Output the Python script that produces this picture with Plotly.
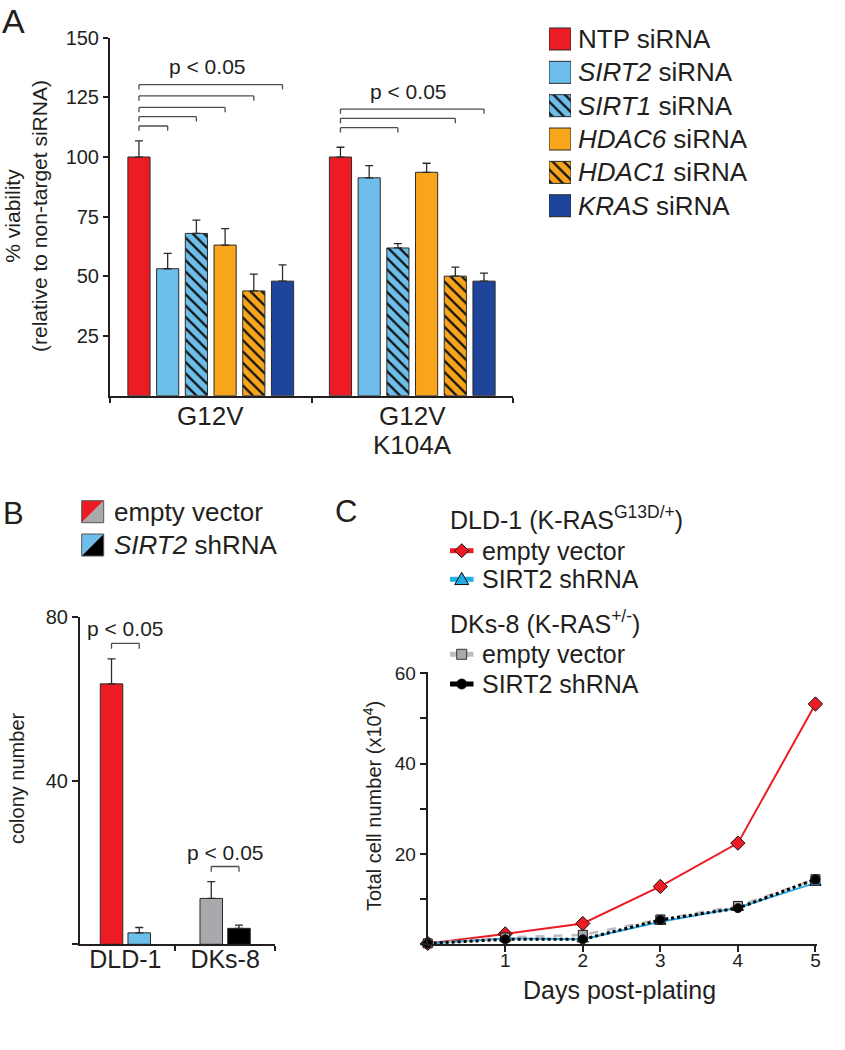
import plotly.graph_objects as go

W, H = 845, 1050
FONT = "Arial, Liberation Sans, Helvetica, sans-serif"
INK = "#231F20"
EDGE = "#2b2b2b"


def px_x(p):
    return p / W


def px_y(p):
    return 1 - p / H


# ======================= DATA =======================
# ---- Panel A ----
groups_A = ["G12V", "G12V<br>K104A"]
labels_A = ["NTP siRNA", "<i>SIRT2</i> siRNA", "<i>SIRT1</i> siRNA",
            "<i>HDAC6</i> siRNA", "<i>HDAC1</i> siRNA", "<i>KRAS</i> siRNA"]
ntp_A = [100.0, 100.0]
sirt2_A = [53.2, 91.3]
sirt1_A = [68.0, 61.9]
hdac6_A = [63.1, 93.6]
hdac1_A = [43.9, 50.1]
kras_A = [48.0, 48.0]
ntp_A_err = [6.8, 4.1]
sirt2_A_err = [6.4, 5.1]
sirt1_A_err = [5.6, 1.8]
hdac6_A_err = [6.9, 3.8]
hdac1_A_err = [7.0, 3.8]
kras_A_err = [6.8, 3.4]
yticks_A = [25, 50, 75, 100, 125, 150]

# significance brackets (group index, target bar index, height)
brk_A_group = [0, 0, 0, 0, 0, 1, 1, 1]
brk_A_bar = [1, 2, 3, 4, 5, 2, 4, 5]
brk_A_y = [113.0, 116.9, 120.8, 125.6, 130.3, 112.3, 116.2, 120.1]
ptext_A_y = [137.8, 127.4]

# ---- Panel B ----
cells_B = ["DLD-1", "DKs-8"]
labels_B = ["empty vector", "<i>SIRT2</i> shRNA"]
empty_B = [63.6, 11.2]
shrna_B = [2.8, 3.9]
empty_B_err = [6.1, 4.1]
shrna_B_err = [1.3, 0.8]
yticks_B = [0, 40, 80]
yticktext_B = ["", "40", "80"]
brk_B_y = [73.5, 19.0]
ptext_B_y = [77.2, 22.4]

# ---- Panel C ----
days_C = [0, 1, 2, 3, 4, 5]
dld_empty = [0.2, 2.3, 4.6, 12.8, 22.4, 53.2]
dld_shrna = [0.2, 1.3, 1.1, 5.0, 8.1, 13.6]
dks_empty = [0.2, 1.5, 2.1, 5.5, 8.5, 14.4]
dks_shrna = [0.2, 1.1, 1.1, 5.4, 8.0, 14.4]
xticks_C = [1, 2, 3, 4, 5]
yticks_C = [0, 10, 20, 30, 40, 50, 60]
yticktext_C = ["", "", "20", "", "40", "", "60"]
legend_titles_C = ["DLD-1 (K-RAS<sup>G13D/+</sup>)", "DKs-8 (K-RAS<sup>+/-</sup>)"]
legend_names_C = ["empty vector", "SIRT2 shRNA", "empty vector", "SIRT2 shRNA"]

# ======================= STYLE =======================
RED = "#ED1C24"
LBLUE = "#6DBEEA"
ORANGE = "#F8A51C"
NAVY = "#1F449C"
GRAY = "#A7A9AC"
BLACK = "#000000"
CBLUE = "#27AAE1"
LGRAY = "#BDBEC0"

A_colors = [RED, LBLUE, LBLUE, ORANGE, ORANGE, NAVY]
A_hatch = ["", "", "\\", "", "\\", ""]
A_PITCH = 0.1425
A_W = 0.11
B_PITCH = 0.278
B_W = 0.226


def bar_marker(color, hatch):
    return dict(color=color, line=dict(color=EDGE, width=1),
                pattern=dict(shape=hatch, fgcolor="#111111", bgcolor=color,
                             size=8, solidity=0.28, fillmode="replace"))


fig = go.Figure()
shapes = []
annotations = []

# ---------------- Panel A bars ----------------
A_series = [ntp_A, sirt2_A, sirt1_A, hdac6_A, hdac1_A, kras_A]
A_errs = [ntp_A_err, sirt2_A_err, sirt1_A_err, hdac6_A_err, hdac1_A_err, kras_A_err]
nA = len(A_series)
for i, (vals, err) in enumerate(zip(A_series, A_errs)):
    off = (i - nA / 2) * A_PITCH + (A_PITCH - A_W) / 2
    fig.add_trace(go.Bar(
        x=groups_A, y=vals, width=A_W, offset=off, name=labels_A[i],
        marker=bar_marker(A_colors[i], A_hatch[i]),
        error_y=dict(type="data", array=err, arrayminus=[0] * len(err),
                     symmetric=False, color=EDGE, thickness=1.3, width=4),
        xaxis="x", yaxis="y", showlegend=False, hoverinfo="skip"))


def bar_center_A(g, i):
    return g + (i - nA / 2) * A_PITCH + A_PITCH / 2


TICK_A = 2.0
BRK_COL = "#4d4d4d"
for g, b, yv in zip(brk_A_group, brk_A_bar, brk_A_y):
    x0 = bar_center_A(g, 0)
    x1 = bar_center_A(g, b)
    for (xa, ya, xb, yb) in [(x0, yv - TICK_A, x0, yv), (x0, yv, x1, yv), (x1, yv, x1, yv - TICK_A)]:
        shapes.append(dict(type="line", xref="x", yref="y", x0=xa, y0=ya, x1=xb, y1=yb,
                           line=dict(color=BRK_COL, width=1.3)))
for g, yv in enumerate(ptext_A_y):
    annotations.append(dict(text="p < 0.05", xref="x", yref="y", x=g - 0.02, y=yv,
                            showarrow=False, font=dict(size=21, color=INK),
                            xanchor="center", yanchor="middle"))

# category labels of panel A (one annotation per text line, tight line spacing)
for g, name in enumerate(groups_A):
    for j, line in enumerate(name.split("<br>")):
        annotations.append(dict(text=line, xref="x", yref="paper", x=g,
                                y=px_y(416 + 29 * j), showarrow=False,
                                font=dict(size=26, color=INK),
                                xanchor="center", yanchor="middle"))

# ---------------- Panel A legend swatches (one trace per item) ----------------
for i in range(nA):
    fig.add_trace(go.Bar(
        y=[labels_A[i]], x=[1], orientation="h", width=0.66,
        marker=bar_marker(A_colors[i], A_hatch[i]),
        xaxis="x2", yaxis="y2", showlegend=False, hoverinfo="skip"))

# ---------------- Panel B bars ----------------
B_series = [empty_B, shrna_B]
B_errs = [empty_B_err, shrna_B_err]
B_colors = [[RED, GRAY], [LBLUE, BLACK]]
nB = len(B_series)
for i, (vals, err) in enumerate(zip(B_series, B_errs)):
    off = (i - nB / 2) * B_PITCH + (B_PITCH - B_W) / 2
    fig.add_trace(go.Bar(
        x=cells_B, y=vals, width=B_W, offset=off, name=labels_B[i],
        marker=dict(color=B_colors[i], line=dict(color=EDGE, width=1)),
        error_y=dict(type="data", array=err, arrayminus=[0] * len(err),
                     symmetric=False, color=EDGE, thickness=1.3, width=4),
        xaxis="x3", yaxis="y3", showlegend=False, hoverinfo="skip"))

TICK_B = 1.3
for g, yv in enumerate(brk_B_y):
    x0 = g - B_PITCH / 2
    x1 = g + B_PITCH / 2
    for (xa, ya, xb, yb) in [(x0, yv - TICK_B, x0, yv), (x0, yv, x1, yv), (x1, yv, x1, yv - TICK_B)]:
        shapes.append(dict(type="line", xref="x3", yref="y3", x0=xa, y0=ya, x1=xb, y1=yb,
                           line=dict(color=BRK_COL, width=1.3)))
for g, yv in enumerate(ptext_B_y):
    annotations.append(dict(text="p < 0.05", xref="x3", yref="y3", x=g, y=yv,
                            showarrow=False, font=dict(size=21, color=INK),
                            xanchor="center", yanchor="middle"))

# Panel B legend (two-tone swatches)
legB_x0, legB_size = 81.7, 22.0
legB_rows = [511.7, 545.0]
for r, yc in enumerate(legB_rows):
    xa, xb = px_x(legB_x0), px_x(legB_x0 + legB_size)
    yt, yb = px_y(yc - legB_size / 2), px_y(yc + legB_size / 2)
    c_up, c_low = B_colors[r][0], B_colors[r][1]
    shapes.append(dict(type="path", xref="paper", yref="paper",
                       path=f"M {xa},{yt} L {xb},{yt} L {xa},{yb} Z",
                       fillcolor=c_up, line=dict(width=0)))
    shapes.append(dict(type="path", xref="paper", yref="paper",
                       path=f"M {xb},{yt} L {xb},{yb} L {xa},{yb} Z",
                       fillcolor=c_low, line=dict(width=0)))
    shapes.append(dict(type="rect", xref="paper", yref="paper", x0=xa, x1=xb, y0=yb, y1=yt,
                       line=dict(color="#555555", width=1)))
    annotations.append(dict(text=labels_B[r], xref="paper", yref="paper",
                            x=px_x(111.7), y=px_y(yc), xanchor="left", yanchor="middle",
                            showarrow=False, font=dict(size=26, color=INK)))

# ---------------- Panel C lines ----------------
C_specs = [
    (dld_empty, legend_names_C[0], RED, "solid", 2, "diamond", 11, RED),
    (dld_shrna, legend_names_C[1], CBLUE, "solid", 2, "triangle-up", 10, CBLUE),
    (dks_empty, legend_names_C[2], LGRAY, "dash", 2.5, "square", 9, GRAY),
    (dks_shrna, legend_names_C[3], BLACK, "dot", 3, "circle", 9, BLACK),
]
for vals, name, lc, dash, lw, sym, ms, mc in C_specs:
    fig.add_trace(go.Scatter(
        x=days_C, y=vals, mode="lines+markers", name=name,
        line=dict(color=lc, width=lw, dash=dash),
        marker=dict(symbol=sym, size=ms, color=mc, line=dict(color="#111111", width=1)),
        cliponaxis=False, xaxis="x4", yaxis="y4", showlegend=False, hoverinfo="skip"))

# Panel C legend, drawn manually
legC_title_y = [520.5, 625.0]
legC_row_y = [550.7, 579.3, 654.3, 684.0]
legC_line_cols = [RED, "#1EB1EC", LGRAY, BLACK]
legC_x0, legC_x1, legC_mx, legC_tx = 450.0, 473.5, 461.7, 480.3
for t, ty in zip(legend_titles_C, legC_title_y):
    annotations.append(dict(text=t, x=px_x(448), y=px_y(ty - 3), xanchor="left",
                            font=dict(size=25, color=INK)))
MK_EDGE = dict(color="#111111", width=1)
for k, (ry, name, llc) in enumerate(zip(legC_row_y, legend_names_C, legC_line_cols)):
    shapes.append(dict(type="line", xref="paper", yref="paper",
                       x0=px_x(legC_x0), x1=px_x(legC_x1), y0=px_y(ry), y1=px_y(ry),
                       line=dict(color=llc, width=5)))
    mc = C_specs[k][7]
    sym = C_specs[k][5]
    cx, cy = legC_mx, ry
    if sym == "diamond":
        r = 7
        path = (f"M {px_x(cx)},{px_y(cy - r)} L {px_x(cx + r)},{px_y(cy)} "
                f"L {px_x(cx)},{px_y(cy + r)} L {px_x(cx - r)},{px_y(cy)} Z")
        shapes.append(dict(type="path", xref="paper", yref="paper", path=path,
                           fillcolor=mc, line=MK_EDGE))
    elif sym == "triangle-up":
        r = 7
        path = (f"M {px_x(cx)},{px_y(cy - r)} L {px_x(cx + r)},{px_y(cy + r * 0.75)} "
                f"L {px_x(cx - r)},{px_y(cy + r * 0.75)} Z")
        shapes.append(dict(type="path", xref="paper", yref="paper", path=path,
                           fillcolor=mc, line=MK_EDGE))
    elif sym == "square":
        r = 5
        shapes.append(dict(type="rect", xref="paper", yref="paper",
                           x0=px_x(cx - r), x1=px_x(cx + r), y0=px_y(cy + r), y1=px_y(cy - r),
                           fillcolor=mc, line=dict(color="#333333", width=1)))
    else:
        r = 5
        shapes.append(dict(type="circle", xref="paper", yref="paper",
                           x0=px_x(cx - r), x1=px_x(cx + r), y0=px_y(cy + r), y1=px_y(cy - r),
                           fillcolor=mc, line=MK_EDGE))
    annotations.append(dict(text=name, x=px_x(legC_tx), y=px_y(ry), xanchor="left",
                            font=dict(size=25, color=INK)))

# ---------------- Text annotations ----------------
annotations += [
    dict(text="A", x=px_x(13), y=1.0, yanchor="top", font=dict(size=34, color=INK)),
    dict(text="B", x=px_x(13), y=px_y(513), font=dict(size=31, color=INK)),
    dict(text="C", x=px_x(346), y=px_y(511), font=dict(size=31, color=INK)),
    dict(text="% viability<br>(relative to non-target siRNA)", x=px_x(26), y=px_y(216),
         textangle=-90, font=dict(size=21, color=INK)),
    dict(text="colony number", x=px_x(17), y=px_y(778), textangle=-90,
         font=dict(size=20, color=INK)),
    dict(text="Total cell number (x10<sup>4</sup>)", x=px_x(372), y=px_y(806), textangle=-90,
         font=dict(size=20, color=INK)),
    dict(text="Days post-plating", x=px_x(619), y=px_y(990), font=dict(size=25, color=INK)),
]
for a in annotations:
    a.setdefault("xref", "paper")
    a.setdefault("yref", "paper")
    a.setdefault("showarrow", False)
    a.setdefault("xanchor", "center")
    a.setdefault("yanchor", "middle")

axis_common = dict(showgrid=False, zeroline=False, showline=True, linecolor=INK,
                   linewidth=2, ticks="outside", tickcolor=INK, tickwidth=2,
                   automargin=False)

fig.update_layout(
    width=W, height=H, autosize=False,
    margin=dict(l=0, r=0, t=0, b=0, pad=0, autoexpand=False),
    paper_bgcolor="white", plot_bgcolor="white",
    font=dict(family=FONT, color=INK),
    barmode="overlay", showlegend=False,
    shapes=shapes, annotations=annotations,
    # Panel A
    xaxis=dict(axis_common, domain=[px_x(110), px_x(513)], anchor="y", type="category",
               range=[-0.5, 1.5], tickson="boundaries", ticklen=5, showticklabels=False),
    yaxis=dict(axis_common, domain=[px_y(395.7), px_y(37.7)], anchor="x", range=[0, 150],
               tickvals=yticks_A, ticklen=5, tickfont=dict(size=20, color=INK)),
    # Panel A legend swatches
    xaxis2=dict(domain=[px_x(549), px_x(571)], anchor="y2", range=[0, 1], visible=False,
                automargin=False),
    yaxis2=dict(domain=[px_y(222.4), px_y(22.3)], anchor="x2", type="category",
                categoryorder="array", categoryarray=labels_A,
                range=[nA - 0.5, -0.5], side="right", ticks="", showline=False,
                showgrid=False, zeroline=False, ticklabelstandoff=6, automargin=False,
                tickfont=dict(size=26, color=INK)),
    # Panel B
    xaxis3=dict(axis_common, domain=[px_x(80), px_x(275)], anchor="y3", type="category",
                range=[-0.455, 1.5], tickson="boundaries", ticklen=5, ticklabelstandoff=-8,
                tickfont=dict(size=25, color=INK)),
    yaxis3=dict(axis_common, domain=[px_y(944.3), px_y(616.7)], anchor="x3", range=[0, 80],
                tickvals=yticks_B, ticktext=yticktext_B, ticklen=6,
                tickfont=dict(size=20, color=INK)),
    # Panel C
    xaxis4=dict(axis_common, domain=[px_x(427.7), px_x(817)], anchor="y4", range=[0, 5.02],
                tickvals=xticks_C, ticklen=6, ticklabelstandoff=-8,
                tickfont=dict(size=19, color=INK)),
    yaxis4=dict(axis_common, domain=[px_y(944.3), px_y(671.7)], anchor="x4", range=[0, 60.35],
                tickvals=yticks_C, ticktext=yticktext_C, ticklen=6,
                tickfont=dict(size=19, color=INK)),
)

fig.write_html("out.html", config={"displayModeBar": False},
               post_script="document.body.style.margin='0';document.body.style.overflow='hidden';")
